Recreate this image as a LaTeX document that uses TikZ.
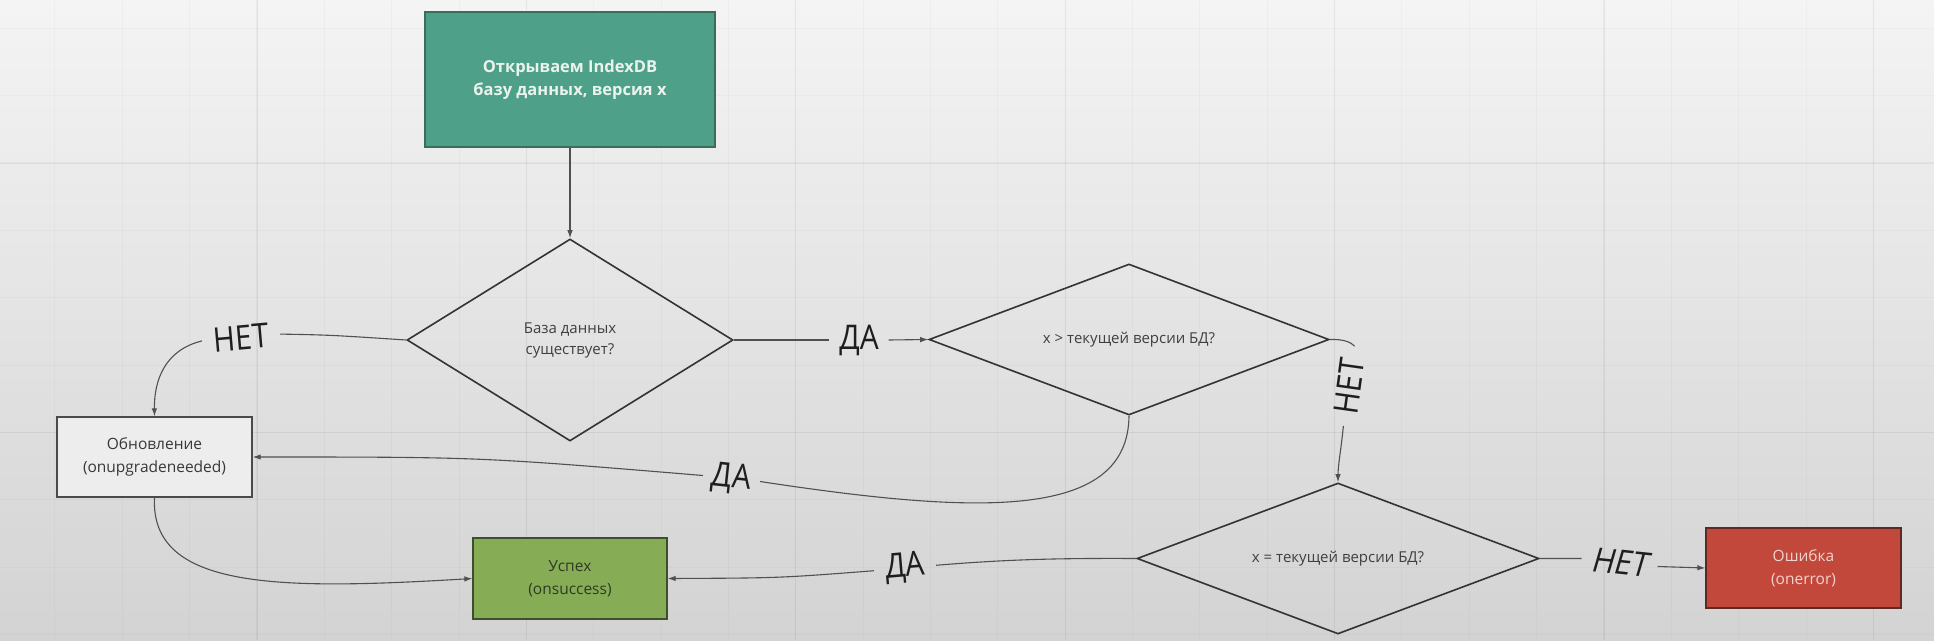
\documentclass[tikz,border=0pt]{standalone}
\usepackage{fontspec}
\setmainfont{Open Sans}
\newfontfamily\lblfam[FakeStretch=0.88]{Open Sans}
\newfontfamily\lblfamit[FakeStretch=0.9,FakeSlant=0.18]{Open Sans}
\usetikzlibrary{shapes.geometric,arrows.meta}
\definecolor{bgtop}{HTML}{F4F4F4}
\definecolor{bgmid}{HTML}{EBEBEB}
\definecolor{bgbot}{HTML}{D3D3D3}
\definecolor{topfill}{HTML}{4FA088}
\definecolor{topdraw}{HTML}{3B6D5E}
\definecolor{toptext}{HTML}{EAF3EE}
\definecolor{updfill}{HTML}{EDEDED}
\definecolor{upddraw}{HTML}{4A4A4A}
\definecolor{usfill}{HTML}{86AC56}
\definecolor{usdraw}{HTML}{3F4F2E}
\definecolor{ustext}{HTML}{2F3A22}
\definecolor{erfill}{HTML}{C1483A}
\definecolor{erdraw}{HTML}{5C2A22}
\definecolor{ertext}{HTML}{F3D3CE}
\definecolor{diadraw}{HTML}{333333}
\definecolor{diatext}{HTML}{404040}
\definecolor{conncol}{HTML}{505050}
\definecolor{lbltext}{HTML}{1E1E1E}
\begin{document}
\begin{tikzpicture}[x=1pt,y=-1pt,
  box/.style={rectangle, line width=1.3pt, inner sep=0pt, align=center,
    font=\fontsize{15.5}{23}\selectfont},
  dia/.style={diamond, draw=diadraw, line width=1.6pt, inner sep=0pt, align=center,
    text=diatext, font=\fontsize{15}{21}\selectfont},
  conn/.style={draw=conncol, line width=1.1pt},
  arr/.style={conn, -{Latex[length=8pt,width=5.5pt]}},
  lbl/.style={inner sep=0pt, text=lbltext, font=\lblfam\fontsize{34}{34}\selectfont},
  lblit/.style={inner sep=0pt, text=lbltext, font=\lblfamit\fontsize{34}{34}\selectfont},
  gridminor/.style={draw=black, opacity=0.022, line width=1pt},
  gridmajor/.style={draw=black, opacity=0.04, line width=1.3pt}]
\useasboundingbox (0,0) rectangle (1934,640);
\shade[top color=bgtop, middle color=bgmid, bottom color=bgbot] (0,0) rectangle (1934,640);
\foreach \k in {0,...,27} {\draw[gridminor] ({54.95+67.35*\k},0) -- ({54.95+67.35*\k},640);}
\foreach \k in {0,...,9} {\draw[gridminor] (0,{28.3+67.35*\k}) -- (1934,{28.3+67.35*\k});}
\foreach \k in {0,...,6} {\draw[gridmajor] ({257+269.4*\k},0) -- ({257+269.4*\k},640);}
\foreach \k in {0,1} {\draw[gridmajor] (0,{163+269.4*\k}) -- (1934,{163+269.4*\k});}

% nodes
\node[box, draw=topdraw, fill=topfill, text=toptext, minimum width=290, minimum height=135,
  font=\bfseries\fontsize{16.5}{23}\selectfont] (top) at (570,79.5)
  {Открываем IndexDB\\базу данных, версия x};
\node[dia, minimum width=326, minimum height=202, aspect=1.61] (d1) at (570,340)
  {База данных\\существует?};
\node[dia, minimum width=400, minimum height=151, aspect=2.65] (d2) at (1129,339.5)
  {x > текущей версии БД?};
\node[dia, minimum width=402, minimum height=151, aspect=2.66] (d3) at (1338,558.5)
  {x = текущей версии БД?};
\node[box, draw=upddraw, fill=updfill, text=black!78, minimum width=195, minimum height=80]
  (upd) at (154.5,457) {Обновление\\(onupgradeneeded)};
\node[box, draw=usdraw, fill=usfill, text=ustext, minimum width=194, minimum height=81]
  (usp) at (570,578.5) {Успех\\(onsuccess)};
\node[box, draw=erdraw, fill=erfill, text=ertext, minimum width=195, minimum height=80]
  (err) at (1803.5,568) {Ошибка\\(onerror)};

% labels
\node[lbl, minimum width=59] (l1) at (859,340) {ДА};
\node[lbl, rotate=5, minimum width=78] (l2) at (241,337.5) {НЕТ};
\node[lbl, rotate=82, minimum width=80] (l4) at (1349,386) {НЕТ};
\node[lbl, rotate=-6, minimum width=57] (l5) at (731.5,478.5) {ДА};
\node[lbl, rotate=5, minimum width=62] (l6) at (905,568) {ДА};
\node[lblit, rotate=-6, minimum width=76] (l7) at (1619.5,562.5) {НЕТ};

% connectors
\draw[arr] (top.south) -- (d1.north);
\draw[conn] (d1.west) .. controls (330,335) .. (l2.east);
\draw[arr] (l2.west) .. controls (165,350) and (154,380) .. (upd.north);
\draw[conn] (d1.east) -- (l1.west);
\draw[arr] (l1.east) -- (d2.west);
\draw[conn] (d2.east) .. controls (1343,339) and (1351,342) .. (l4.east);
\draw[arr] (l4.west) .. controls (1341,450) and (1338,465) .. (d3.north);
\draw[conn] (d2.south) .. controls (1128,520) and (980,515) .. (l5.east);
\draw[arr] (l5.west) .. controls (480,457) .. (upd.east);
\draw[conn] (d3.west) .. controls (1050,558) and (1000,560) .. (l6.east);
\draw[arr] (l6.west) .. controls (780,578) .. (usp.east);
\draw[conn] (d3.east) -- (l7.west);
\draw[arr] (l7.east) -- (err.west);
\draw[arr] (upd.south) .. controls (150,590) and (280,590) .. (usp.west);
\end{tikzpicture}
\end{document}
